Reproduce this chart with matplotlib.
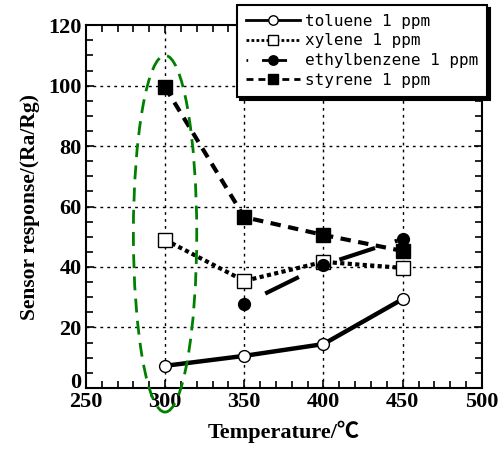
import matplotlib

matplotlib.use("Agg")
import matplotlib.pyplot as plt
from matplotlib.font_manager import FontProperties
from matplotlib.patches import Ellipse
from matplotlib.ticker import MultipleLocator
from matplotlib.transforms import ScaledTranslation

temperature = [300, 350, 400, 450]
toluene = [7.3, 10.6, 14.5, 29.4]
xylene = [49.0, 35.4, 41.7, 39.7]
ethyl_temperature = [350, 400, 450]
ethylbenzene = [27.8, 40.7, 49.3]
styrene = [99.5, 56.5, 50.6, 45.3]

x_ticks = [250, 300, 350, 400, 450, 500]
y_ticks = [0, 20, 40, 60, 80, 100, 120]

serif_bold = {"family": ["Liberation Serif", "Noto Sans CJK KR"], "weight": "bold"}

fig = plt.figure(figsize=(5.02, 4.5), dpi=100)
ax = fig.add_axes([0.171, 0.138, 0.789, 0.806])

ax.set_xlim(250, 500)
ax.set_ylim(0, 120)
ax.set_xticks(x_ticks)
ax.set_yticks(y_ticks)
ax.xaxis.set_minor_locator(MultipleLocator(10))
ax.yaxis.set_minor_locator(MultipleLocator(5))
ax.tick_params(which="both", direction="in", top=True, right=True, width=1.2)
ax.tick_params(which="major", length=6, pad=3)
ax.tick_params(which="minor", length=5)
for label in ax.get_xticklabels() + ax.get_yticklabels():
    label.set_fontproperties(FontProperties(size=16, **serif_bold))
for spine in ax.spines.values():
    spine.set_linewidth(1.5)

# the "0" label sits a bit high, clear of the "250" below it
zero_label = ax.yaxis.get_major_ticks()[0].label1
zero_label.set_transform(zero_label.get_transform()
                         + ScaledTranslation(0, 5.5 / 72, fig.dpi_scale_trans))

for x in x_ticks[1:-1]:
    ax.axvline(x, color="black", lw=1, ls=(0, (2, 3)), zorder=0)
for y in y_ticks[1:-1]:
    ax.axhline(y, color="black", lw=1, ls=(0, (2, 3)), zorder=0)

ax.plot(temperature, toluene, color="black", lw=3.2, ls="-",
        marker="o", ms=8.5, mfc="white", mec="black", mew=1,
        label="toluene 1 ppm", zorder=3)
ax.plot(temperature, xylene, color="black", lw=3, ls=(0, (1, 0.8)),
        marker="s", ms=9.5, mfc="white", mec="black", mew=1,
        label="xylene 1 ppm", zorder=3)
ax.plot(ethyl_temperature, ethylbenzene, color="black", lw=3, ls=(0, (0.6, 5, 9, 5)),
        marker="o", ms=8.5, mfc="black", mec="black",
        label="ethylbenzene 1 ppm", zorder=3)
ax.plot(temperature, styrene, color="black", lw=3, ls=(0, (2.5, 1.8)),
        marker="s", ms=9.5, mfc="black", mec="black",
        label="styrene 1 ppm", zorder=3)

ax.add_patch(Ellipse((300, 51), 40, 118, fill=False, edgecolor="green",
                     lw=2, ls=(0, (5, 3)), clip_on=False, zorder=4))

ax.set_xlabel("Temperature/℃", fontsize=16, labelpad=6, **serif_bold)
ax.set_ylabel("Sensor response/(Ra/Rg)", fontsize=15.5, labelpad=6, **serif_bold)

legend = ax.legend(loc="upper left", bbox_to_anchor=(0.361, 1.078),
                   prop={"family": "DejaVu Sans Mono", "size": 11.5},
                   frameon=True, fancybox=False, handlelength=3.4,
                   handletextpad=0.3, labelspacing=0.3, borderpad=0.55,
                   markerscale=0.8,
                   shadow={"color": "black", "alpha": 1})
legend.get_frame().set_edgecolor("black")
legend.get_frame().set_linewidth(1.5)
legend.set_zorder(5)
for line in legend.get_lines():
    line.set_linewidth(2)

fig.savefig("out.png", dpi=100)
